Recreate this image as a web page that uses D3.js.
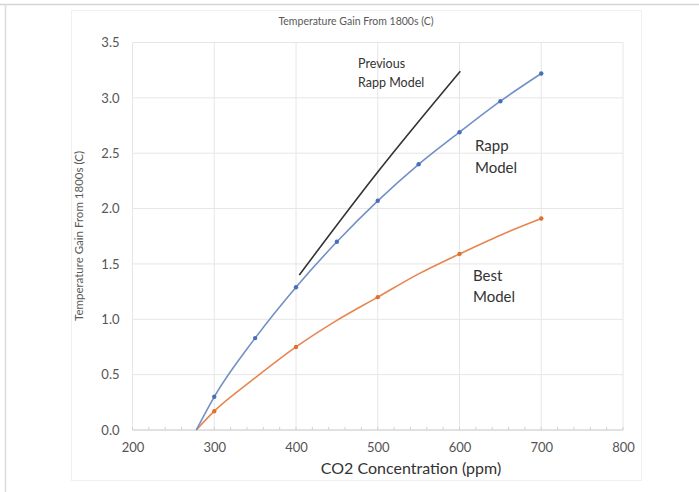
<!DOCTYPE html>
<html>
<head>
<meta charset="utf-8">
<script src="https://cdn.jsdelivr.net/npm/d3@7"></script>
<style>
  html, body { margin: 0; padding: 0; background: #fff; }
  svg { display: block; font-family: Lato, "Open Sans", sans-serif; }
</style>
</head>
<body>
<svg id="chart" width="699" height="492"></svg>
<script>
// CO2 concentration (ppm) vs temperature gain (C)
const rappX = [278, 300, 350, 400, 450, 500, 550, 600, 650, 700];
const rappY = [0, 0.30, 0.83, 1.29, 1.70, 2.07, 2.40, 2.69, 2.97, 3.22];
const rappMarked = [false, true, true, true, true, true, true, true, true, true];

const bestX = [278, 300, 350, 400, 450, 500, 550, 600, 650, 700];
const bestY = [0, 0.17, 0.47, 0.75, 0.99, 1.20, 1.41, 1.59, 1.76, 1.91];
const bestMarked = [false, true, false, true, false, true, false, true, false, true];

const prevX = [404, 500, 601];
const prevY = [1.40, 2.33, 3.24];

const xTicks = [200, 300, 400, 500, 600, 700, 800];
const yTicks = [0, 0.5, 1.0, 1.5, 2.0, 2.5, 3.0, 3.5];

const svg = d3.select("#chart");
const W = 699, H = 492;

// outer frame and chart-area frame
svg.append("line").attr("x1", 0).attr("x2", W).attr("y1", 4.5).attr("y2", 4.5)
  .attr("stroke", "#d4d4d4").attr("stroke-width", 1.5);
svg.append("line").attr("x1", 5.5).attr("x2", 5.5).attr("y1", 4).attr("y2", H)
  .attr("stroke", "#dcdcdc").attr("stroke-width", 1.5);
svg.append("rect").attr("x", 71.5).attr("y", 10.5).attr("width", 570).attr("height", 470)
  .attr("fill", "none").attr("stroke", "#f0f0f0");

const m = { left: 132.5, right: 623, top: 42.5, bottom: 430 };
const x = d3.scaleLinear().domain([200, 800]).range([m.left, m.right]);
const y = d3.scaleLinear().domain([0, 3.5]).range([m.bottom, m.top]);

// gridlines
const grid = svg.append("g");
grid.selectAll("line.h").data(yTicks).join("line")
  .attr("x1", m.left).attr("x2", m.right)
  .attr("y1", d => y(d)).attr("y2", d => y(d))
  .attr("stroke", "#e6e6e6").attr("stroke-width", 1);
grid.selectAll("line.v").data(xTicks).join("line")
  .attr("x1", d => x(d)).attr("x2", d => x(d))
  .attr("y1", m.top).attr("y2", m.bottom)
  .attr("stroke", "#e6e6e6").attr("stroke-width", 1);

// minor ticks along the bottom axis
const minor = d3.range(200, 801, 20);
svg.append("g").selectAll("line").data(minor).join("line")
  .attr("x1", d => x(d)).attr("x2", d => x(d))
  .attr("y1", m.bottom).attr("y2", m.bottom - 3)
  .attr("stroke", "#d0d0d0");
svg.append("line").attr("x1", m.left).attr("x2", m.right)
  .attr("y1", m.bottom).attr("y2", m.bottom).attr("stroke", "#d0d0d0");

// axes
const xAxis = svg.append("g").attr("transform", `translate(0,${m.bottom})`)
  .call(d3.axisBottom(x).tickValues(xTicks).tickSize(0).tickPadding(13).tickFormat(d3.format("d")));
const yAxis = svg.append("g").attr("transform", `translate(${m.left},0)`)
  .call(d3.axisLeft(y).tickValues(yTicks).tickSize(0).tickPadding(13).tickFormat(d3.format(".1f")));
[xAxis, yAxis].forEach(a => {
  a.select(".domain").remove();
  a.selectAll("text").attr("fill", "#555").style("font-size", "13px")
    .style("font-family", "Lato, 'Open Sans', sans-serif");
});

// series
const line = d3.line().x(d => x(d[0])).y(d => y(d[1])).curve(d3.curveMonotoneX);
const rapp = rappX.map((v, i) => [v, rappY[i], rappMarked[i]]);
const best = bestX.map((v, i) => [v, bestY[i], bestMarked[i]]);
const prev = prevX.map((v, i) => [v, prevY[i]]);

svg.append("path").datum(best).attr("d", line)
  .attr("fill", "none").attr("stroke", "#e8854f").attr("stroke-width", 1.6);
svg.append("path").datum(rapp).attr("d", line)
  .attr("fill", "none").attr("stroke", "#7390c6").attr("stroke-width", 1.6);
svg.append("path").datum(prev).attr("d", line)
  .attr("fill", "none").attr("stroke", "#333333").attr("stroke-width", 1.6);

svg.append("g").selectAll("circle").data(best.filter(d => d[2])).join("circle")
  .attr("cx", d => x(d[0])).attr("cy", d => y(d[1])).attr("r", 2.2).attr("fill", "#e0702c");
svg.append("g").selectAll("circle").data(rapp.filter(d => d[2])).join("circle")
  .attr("cx", d => x(d[0])).attr("cy", d => y(d[1])).attr("r", 2.2).attr("fill", "#4a6fb8");

// titles
svg.append("text").attr("x", 356).attr("y", 25).attr("text-anchor", "middle")
  .attr("fill", "#595959").style("font-size", "10.5px").text("Temperature Gain From 1800s (C)");
svg.append("text").attr("transform", "translate(83,236) rotate(-90)").attr("text-anchor", "middle")
  .attr("fill", "#595959").style("font-size", "11.5px").text("Temperature Gain From 1800s (C)");
svg.append("text").attr("x", 411).attr("y", 474).attr("text-anchor", "middle")
  .attr("fill", "#333").style("font-size", "16px").text("CO2 Concentration (ppm)");

// series labels
function label(lines, lx, ly, size, gap) {
  const t = svg.append("text").attr("fill", "#333").style("font-size", size + "px");
  lines.forEach((s, i) => t.append("tspan").attr("x", lx).attr("y", ly + i * gap).text(s));
}
label(["Previous", "Rapp Model"], 358, 68, 12.5, 19);
label(["Rapp", "Model"], 475, 151, 15, 22);
label(["Best", "Model"], 473, 281, 15, 21);
</script>
</body>
</html>
